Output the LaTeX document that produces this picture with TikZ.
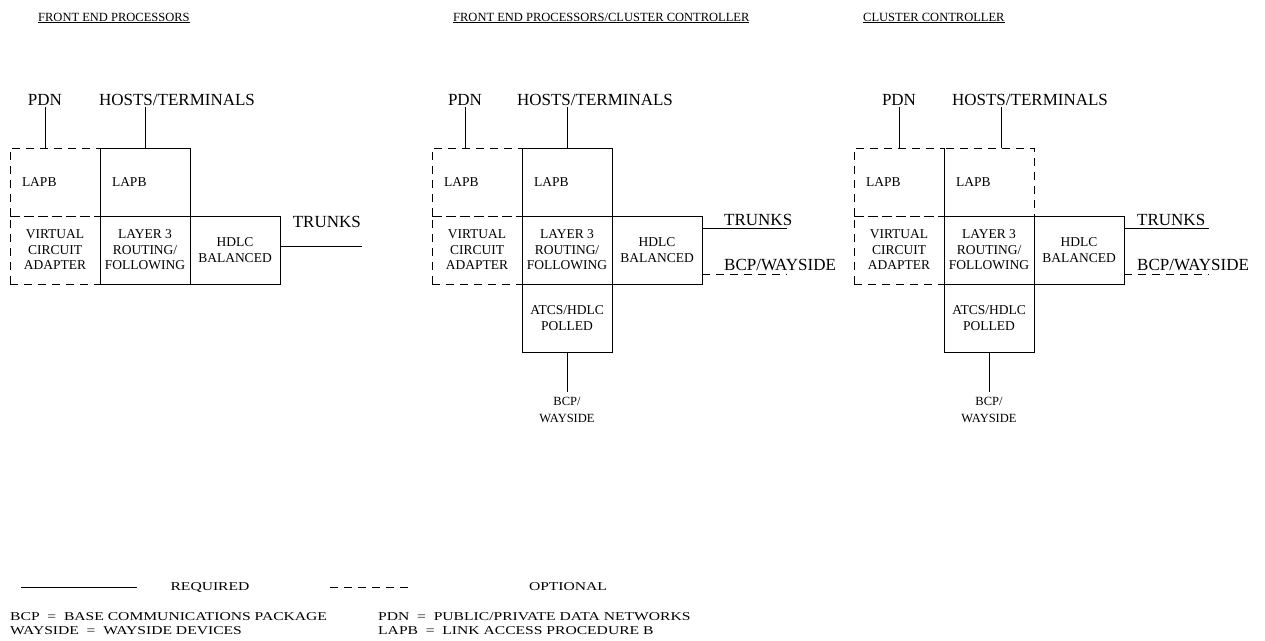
\documentclass[tikz,border=0pt]{standalone}
\usepackage{fontspec}
\setmainfont{Liberation Serif}
\newfontfamily\keyfamily[FakeStretch=1.3]{Liberation Serif}
\usetikzlibrary{positioning}

% text sizes
\newcommand\ttlfont{\fontsize{12.5}{14}\selectfont}
\newcommand\lblfont{\fontsize{17}{19}\selectfont}
\newcommand\boxfont{\fontsize{13.5}{15.5}\selectfont}
\newcommand\waysfont{\fontsize{12.5}{17}\selectfont}
\newcommand\legfont{\keyfamily\fontsize{12}{14}\selectfont}

\begin{document}
\begin{tikzpicture}[
    x=1pt, y=-1pt,
    box/.style={rectangle, minimum width=90pt, minimum height=68pt, inner sep=0pt, outer sep=0pt, align=center, font=\boxfont},
    reqbox/.style={box, draw=black, line width=0.9pt},
    optbox/.style={box, draw=black, line width=0.9pt, dash pattern=on 8pt off 6pt},
    lapb/.style={text width=66pt, align=left},
    heading/.style={anchor=west, font=\ttlfont, inner sep=1pt},
    lbl/.style={font=\lblfont, inner sep=1pt},
    ways/.style={font=\waysfont, align=center, inner sep=5pt},
    legend/.style={font=\legfont, inner sep=1pt},
    req/.style={line width=0.9pt},
    opt/.style={line width=0.9pt, dash pattern=on 8pt off 6pt}
]
\useasboundingbox (0,0) rectangle (1265,640);

% headings
\node[heading] (ttlA) at (37,18) {\underline{FRONT END PROCESSORS}};
\node[heading] (ttlB) at (452,18) {\underline{FRONT END PROCESSORS/CLUSTER CONTROLLER}};
\node[heading] (ttlC) at (862,18) {\underline{CLUSTER CONTROLLER}};

% front end processors
\node[optbox, lapb, anchor=north west] (lapbA) at (10,148) {LAPB};
\node[reqbox, lapb, right=0pt of lapbA] (lapbB) {LAPB};
\node[optbox, below=0pt of lapbA] (vcaA) {VIRTUAL\\CIRCUIT\\ADAPTER};
\node[reqbox, right=0pt of vcaA] (layerA) {LAYER 3\\ROUTING/\\FOLLOWING};
\node[reqbox, right=0pt of layerA] (hdlcA) {HDLC\\BALANCED};

\node[lbl] (pdnA) at (45,100) {PDN};
\node[lbl] (hostsA) at (177,100) {HOSTS/TERMINALS};
\draw[req] (pdnA.south) -- (pdnA.south |- lapbA.north);
\draw[req] (lapbB.north) -- (lapbB.north |- hostsA.south);

\coordinate (trkA) at ([xshift=82pt, yshift=4pt]hdlcA.east);
\draw[req] (hdlcA.east |- trkA) -- (trkA);
\node[lbl, anchor=base east] (trunksA) at ([yshift=19pt]trkA) {TRUNKS};

% front end processors / cluster controller
\node[optbox, lapb, anchor=north west] (lapbC) at (432,148) {LAPB};
\node[reqbox, lapb, right=0pt of lapbC] (lapbD) {LAPB};
\node[optbox, below=0pt of lapbC] (vcaB) {VIRTUAL\\CIRCUIT\\ADAPTER};
\node[reqbox, right=0pt of vcaB] (layerB) {LAYER 3\\ROUTING/\\FOLLOWING};
\node[reqbox, right=0pt of layerB] (hdlcB) {HDLC\\BALANCED};
\node[reqbox, below=0pt of layerB] (atcsB) {ATCS/HDLC\\POLLED};

\node[lbl] (pdnB) at (465,100) {PDN};
\node[lbl] (hostsB) at (595,100) {HOSTS/TERMINALS};
\draw[req] (pdnB.south) -- (pdnB.south |- lapbC.north);
\draw[req] (lapbD.north) -- (lapbD.north |- hostsB.south);

\coordinate (trkB) at ([xshift=85pt, yshift=-12pt]hdlcB.north east);
\draw[req] (hdlcB.east |- trkB) -- (trkB);
\node[lbl, anchor=base west] (trunksB) at ([xshift=21pt, yshift=3pt]hdlcB.east |- trkB) {TRUNKS};
\coordinate (bcpB) at ([xshift=85pt, yshift=10pt]hdlcB.south east);
\draw[opt] (hdlcB.east |- bcpB) -- (bcpB);
\node[lbl, anchor=base west] (waysB) at ([xshift=21pt, yshift=4pt]hdlcB.east |- bcpB) {BCP/WAYSIDE};

\node[ways, below=40pt of atcsB] (bottomB) {BCP/\\WAYSIDE};
\draw[req] (atcsB.south) -- (bottomB.north);

% cluster controller
\node[optbox, lapb, anchor=north west] (lapbE) at (854,148) {LAPB};
\node[optbox, lapb, right=0pt of lapbE] (lapbF) {LAPB};
\node[optbox, below=0pt of lapbE] (vcaC) {VIRTUAL\\CIRCUIT\\ADAPTER};
\node[reqbox, right=0pt of vcaC] (layerC) {LAYER 3\\ROUTING/\\FOLLOWING};
\node[reqbox, right=0pt of layerC] (hdlcC) {HDLC\\BALANCED};
\node[reqbox, below=0pt of layerC] (atcsC) {ATCS/HDLC\\POLLED};

\node[lbl] (pdnC) at (899,100) {PDN};
\node[lbl] (hostsC) at (1030,100) {HOSTS/TERMINALS};
\draw[req] (pdnC.south) -- (pdnC.south |- lapbE.north);
\draw[req] ([xshift=12pt]lapbF.north) -- ([xshift=12pt]lapbF.north |- hostsC.south);

\coordinate (trkC) at ([xshift=85pt, yshift=-12pt]hdlcC.north east);
\draw[req] (hdlcC.east |- trkC) -- (trkC);
\node[lbl, anchor=base west] (trunksC) at ([xshift=12pt, yshift=3pt]hdlcC.east |- trkC) {TRUNKS};
\coordinate (bcpC) at ([xshift=85pt, yshift=10pt]hdlcC.south east);
\draw[opt] (hdlcC.east |- bcpC) -- (bcpC);
\node[lbl, anchor=base west] (waysC) at ([xshift=12pt, yshift=4pt]hdlcC.east |- bcpC) {BCP/WAYSIDE};

\node[ways, below=40pt of atcsC] (bottomC) {BCP/\\WAYSIDE};
\draw[req] (atcsC.south) -- (bottomC.north);

% key
\draw[req] (21,587) -- (137,587);
\node[legend] (reqKey) at (210,587) {REQUIRED};
\draw[opt] (330,587) -- (410,587);
\node[legend] (optKey) at (568,587) {OPTIONAL};
\node[legend, anchor=west] (bcpKey) at (9,617) {BCP \ = \ BASE COMMUNICATIONS PACKAGE};
\node[legend, anchor=west] (waysideKey) at (9,631) {WAYSIDE \ = \ WAYSIDE DEVICES};
\node[legend, anchor=west] (pdnKey) at (377,617) {PDN \ = \ PUBLIC/PRIVATE DATA NETWORKS};
\node[legend, anchor=west] (lapbKey) at (377,631) {LAPB \ = \ LINK ACCESS PROCEDURE B};
\end{tikzpicture}
\end{document}
